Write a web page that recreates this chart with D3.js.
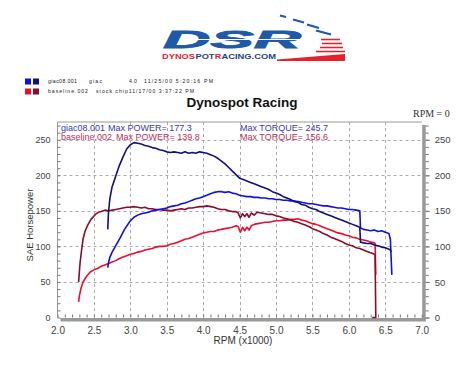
<!DOCTYPE html>
<html><head><meta charset="utf-8">
<script src="https://cdn.jsdelivr.net/npm/d3@7/dist/d3.min.js"></script>
<style>body{margin:0;background:#fff}svg{display:block}</style>
</head><body><svg id="c" width="468" height="371"></svg>
<script>
// ---------- DATA ----------
const xTicks = [2.0,2.5,3.0,3.5,4.0,4.5,5.0,5.5,6.0,6.5,7.0];
const yTicks = [0,50,100,150,200,250];
const legendRows = [
  ["giac08.001","giac","4.0","11/25/00 5:20:16 PM"],
  ["baseline.002","stock chip11/17/00 3:37:22 PM"]
];
const runNames = ["giac08.001","baseline.002"];
const maxPower = [177.3, 139.8];
const maxTorque = [245.7, 156.6];
// giac torque (navy)
const giacTorque = [[2.69,124],[2.70,148],[2.72,168],[2.75,184],[2.80,199],[2.85,214],[2.90,226],[2.95,237],[3.00,243],[3.05,246],[3.10,245],[3.15,244],[3.20,242],[3.25,241],[3.30,239],[3.35,238],[3.40,236],[3.45,235],[3.50,233],[3.55,232],[3.60,233],[3.65,232],[3.70,231],[3.75,233],[3.80,231],[3.85,232],[3.90,231],[3.95,233],[4.00,232],[4.05,231],[4.10,229],[4.15,227],[4.20,224],[4.25,220],[4.30,216],[4.35,211],[4.40,206],[4.45,201],[4.50,196],[4.55,194],[4.60,192],[4.65,190],[4.70,188],[4.75,186],[4.80,184],[4.85,182],[4.90,180],[4.95,177],[5.00,175],[5.05,173],[5.10,170],[5.15,168],[5.20,166],[5.25,163],[5.30,162],[5.35,159],[5.40,158],[5.45,155],[5.50,153],[5.55,152],[5.60,149],[5.65,147],[5.70,145],[5.75,143],[5.80,141],[5.85,139],[5.90,137],[5.95,135],[6.00,133],[6.05,131],[6.10,129],[6.15,127],[6.16,106],[6.20,105],[6.25,104],[6.30,104],[6.35,102],[6.40,101],[6.45,99],[6.50,98],[6.55,96],[6.57,95],[6.58,92]];
// giac power (blue)
const giacPower = [[2.69,70],[2.70,77],[2.72,85],[2.75,92],[2.80,101],[2.86,112],[2.92,124],[3.00,136],[3.05,141],[3.10,144],[3.15,146],[3.20,147],[3.25,148],[3.30,150],[3.35,151],[3.40,152],[3.45,153],[3.50,154],[3.55,156],[3.60,157],[3.65,158],[3.70,160],[3.75,161],[3.80,163],[3.85,165],[3.90,167],[3.95,168],[4.00,170],[4.05,172],[4.10,174],[4.15,176],[4.20,177],[4.25,177],[4.30,176],[4.35,177],[4.40,175],[4.45,174],[4.50,172],[4.55,171],[4.60,170],[4.65,170],[4.70,169],[4.75,169],[4.80,168],[4.85,168],[4.90,167],[4.95,167],[5.00,166],[5.05,166],[5.10,165],[5.15,165],[5.20,164],[5.25,164],[5.30,163],[5.35,162],[5.40,161],[5.45,160],[5.50,160],[5.55,159],[5.60,158],[5.65,157],[5.70,157],[5.75,156],[5.80,155],[5.85,154],[5.90,154],[5.95,153],[6.00,152],[6.05,152],[6.10,151],[6.15,150],[6.16,126],[6.20,124],[6.25,123],[6.30,122],[6.35,123],[6.40,121],[6.45,122],[6.50,120],[6.55,118],[6.57,110],[6.58,85],[6.59,60]];
// baseline torque (dark red)
const baseTorque = [[2.29,50],[2.30,64],[2.31,77],[2.33,94],[2.35,110],[2.38,122],[2.42,131],[2.46,138],[2.52,145],[2.56,148],[2.60,149],[2.65,151],[2.70,150],[2.75,151],[2.80,152],[2.85,153],[2.90,154],[2.95,155],[3.00,155],[3.04,156],[3.10,155],[3.15,154],[3.20,155],[3.25,153],[3.30,153],[3.35,152],[3.40,152],[3.45,151],[3.50,151],[3.55,150],[3.60,151],[3.65,152],[3.70,153],[3.75,152],[3.80,154],[3.85,154],[3.90,155],[3.95,156],[4.00,156],[4.05,157],[4.10,156],[4.15,155],[4.20,153],[4.25,152],[4.30,152],[4.35,150],[4.40,149],[4.45,149],[4.48,147],[4.51,140],[4.54,146],[4.57,142],[4.60,146],[4.63,141],[4.66,147],[4.70,144],[4.74,148],[4.80,147],[4.85,146],[4.90,145],[4.95,145],[5.00,143],[5.05,142],[5.10,140],[5.15,139],[5.20,137],[5.25,135],[5.30,134],[5.35,132],[5.40,130],[5.45,128],[5.50,125],[5.55,123],[5.60,121],[5.65,118],[5.70,116],[5.75,113],[5.80,111],[5.85,109],[5.90,107],[5.95,104],[6.00,102],[6.05,101],[6.10,98],[6.15,97],[6.20,95],[6.25,93],[6.30,91],[6.35,89],[6.36,88],[6.37,0],[6.32,0]];
// baseline power (red)
const basePower = [[2.29,22],[2.30,30],[2.32,40],[2.35,50],[2.40,58],[2.45,64],[2.50,67],[2.55,69],[2.60,72],[2.65,74],[2.70,76],[2.75,78],[2.80,80],[2.85,83],[2.90,85],[2.95,87],[3.00,89],[3.05,90],[3.10,92],[3.15,93],[3.20,95],[3.25,96],[3.30,97],[3.35,99],[3.40,100],[3.45,100],[3.50,101],[3.55,103],[3.60,104],[3.65,106],[3.70,108],[3.75,110],[3.80,111],[3.85,113],[3.90,115],[3.95,117],[4.00,119],[4.05,120],[4.10,121],[4.15,121],[4.20,123],[4.25,124],[4.30,125],[4.35,126],[4.40,127],[4.45,129],[4.48,128],[4.51,120],[4.54,127],[4.57,122],[4.60,127],[4.63,123],[4.66,129],[4.70,131],[4.75,132],[4.80,133],[4.85,134],[4.90,134],[4.95,135],[5.00,136],[5.05,136],[5.10,137],[5.15,137],[5.20,138],[5.25,138],[5.30,139],[5.35,137],[5.40,136],[5.45,134],[5.50,132],[5.55,131],[5.60,129],[5.65,127],[5.70,125],[5.75,123],[5.80,121],[5.85,119],[5.90,118],[5.95,116],[6.00,115],[6.05,113],[6.10,112],[6.15,110],[6.20,109],[6.25,108],[6.30,106],[6.35,105],[6.36,104],[6.37,60]];

const colBlue = "#1010e0", colNavy = "#10107e", colRed = "#e8102e", colDRed = "#8c0a2c";

// ---------- DRAW ----------
const svg = d3.select("#c");
const FONT = "Arial, 'Liberation Sans', sans-serif";
const x = d3.scaleLinear().domain([2,7]).range([57.5,421.7]);
const y = d3.scaleLinear().domain([0,275]).range([317.5,122]);

// Logo
const logo = svg.append("g");
[[280,15.5,286,17],[293,19.5,304,22.5],[307,24.5,319,28],[316,30.5,331,34.5]].forEach(d=>{
  logo.append("line").attr("x1",d[0]).attr("y1",d[1]).attr("x2",d[2]).attr("y2",d[3])
    .attr("stroke","#1e5aa8").attr("stroke-width",2.2);
});
[[321,39.5,340,39.5],[322,43.5,342,43.5],[320,47.5,343,47.5],[316,51.5,345,51.5]].forEach(d=>{
  logo.append("line").attr("x1",d[0]).attr("y1",d[1]).attr("x2",d[2]).attr("y2",d[3])
    .attr("stroke","#e2232e").attr("stroke-width",1.6);
});
logo.append("path").attr("d","M277,59.5 L345,54 L345,61 L277,61 Z").attr("fill","#e2232e");
logo.append("text").attr("x",163).attr("y",48).attr("font-family",FONT)
  .attr("font-size",24).attr("font-weight",900).attr("font-style","italic")
  .attr("fill","#1e5aa8").attr("stroke","#1e5aa8").attr("stroke-width",0.8)
  .attr("textLength",138).attr("lengthAdjust","spacingAndGlyphs").text("DSR");
logo.append("line").attr("x1",185).attr("y1",39.5).attr("x2",300).attr("y2",39.5).attr("stroke","#fff").attr("stroke-width",1);
[["DYNOS","#e2232e",162,33],["POT","#1d3f8a",195.5,19],["R","#e2232e",214.8,6.5],["ACING.COM","#1d3f8a",221.5,54.5]].forEach(p=>{
  logo.append("text").attr("x",p[2]).attr("y",59).attr("font-family",FONT)
    .attr("font-size",7.2).attr("font-weight",700).attr("fill",p[1])
    .attr("textLength",p[3]).attr("lengthAdjust","spacingAndGlyphs").text(p[0]);
});

// Legend
const legend = svg.append("g").attr("font-family",FONT).attr("font-size",5.2).attr("fill","#222");
[[colBlue,colNavy,78.5],[colRed,colDRed,88.5]].forEach(r=>{
  legend.append("rect").attr("x",25).attr("y",r[2]).attr("width",6).attr("height",6).attr("fill",r[0]);
  legend.append("rect").attr("x",33).attr("y",r[2]).attr("width",6).attr("height",6).attr("fill",r[1]);
});
const row1X = [[48,29],[89,13],[129,8],[144,69]];
legendRows[0].forEach((t,i)=>legend.append("text").attr("x",row1X[i][0]).attr("y",83.2)
  .attr("textLength",row1X[i][1]).attr("lengthAdjust","spacing").text(t));
const row2X = [[48,40],[96,98]];
legendRows[1].forEach((t,i)=>legend.append("text").attr("x",row2X[i][0]).attr("y",92.8)
  .attr("textLength",row2X[i][1]).attr("lengthAdjust","spacing").text(t));

// Title
svg.append("text").attr("x",242).attr("y",107).attr("text-anchor","middle")
  .attr("font-family",FONT).attr("font-size",13.5).attr("font-weight",700).attr("fill","#111")
  .text("Dynospot Racing");
svg.append("text").attr("x",413).attr("y",117).attr("font-family","'Liberation Serif', 'DejaVu Serif', serif")
  .attr("font-size",10).attr("fill","#333").text("RPM = 0");

// Plot frame shadow
svg.append("rect").attr("x",x(7)+0.5).attr("y",y(275)+3).attr("width",3.5).attr("height",y(0)-y(275)+0.5).attr("fill","#999");
svg.append("rect").attr("x",x(2)+3).attr("y",y(0)+0.5).attr("width",x(7)-x(2)+1).attr("height",3.5).attr("fill","#999");

// grid
const grid = svg.append("g").attr("stroke","#aaa").attr("stroke-width",1).attr("stroke-dasharray","3,3");
xTicks.filter(v=>v>2&&v<7).forEach(v=>grid.append("line").attr("x1",Math.round(x(v))+0.5).attr("x2",Math.round(x(v))+0.5).attr("y1",y(275)).attr("y2",y(0))); 
yTicks.filter(v=>v>0).forEach(v=>grid.append("line").attr("y1",Math.round(y(v))+0.5).attr("y2",Math.round(y(v))+0.5).attr("x1",x(2)).attr("x2",x(7)));

// frame thin lines
svg.append("path").attr("d",`M${x(2)},${y(0)} L${x(2)},${y(275)} L${x(7)},${y(275)}`).attr("fill","none").attr("stroke","#999").attr("stroke-width",1);

// axes
const yMinor = d3.range(0,271,10);
const axL = svg.append("g").attr("transform",`translate(${x(2)},0)`)
  .call(d3.axisRight(y).tickValues(yMinor).tickSize(3).tickFormat(""));
axL.select(".domain").remove();
axL.selectAll("line").attr("stroke","#777");
const axLL = svg.append("g").attr("transform",`translate(${x(2)},0)`)
  .call(d3.axisLeft(y).tickValues(yTicks).tickSize(0).tickPadding(7).tickFormat(d3.format("d")));
axLL.select(".domain").remove();
axLL.selectAll("text").attr("font-family",FONT).attr("font-size",9).attr("fill","#444");

const axR = svg.append("g").attr("transform",`translate(${x(7)+4},0)`)
  .call(d3.axisRight(y).tickValues(yMinor).tickSize(3).tickFormat(""));
axR.select(".domain").remove();
axR.selectAll("line").attr("stroke","#777");
const axRL = svg.append("g").attr("transform",`translate(${x(7)+4},0)`)
  .call(d3.axisRight(y).tickValues(yTicks).tickSize(4).tickPadding(5).tickFormat(d3.format("d")));
axRL.select(".domain").remove();
axRL.selectAll("line").attr("stroke","#777");
axRL.selectAll("text").attr("font-family",FONT).attr("font-size",9.5).attr("fill","#444");

const xMinor = d3.range(20,71).map(v=>v/10);
const axB = svg.append("g").attr("transform",`translate(0,${y(0)})`)
  .call(d3.axisTop(x).tickValues(xMinor).tickSize(3).tickFormat(""));
axB.select(".domain").remove();
axB.selectAll("line").attr("stroke","#777");
const axBL = svg.append("g").attr("transform",`translate(0,${y(0)+4})`)
  .call(d3.axisBottom(x).tickValues(xTicks).tickSize(0).tickPadding(5).tickFormat(d3.format(".1f")));
axBL.select(".domain").remove();
axBL.selectAll("text").attr("font-family",FONT).attr("font-size",10).attr("fill","#444");

svg.append("text").attr("x",243).attr("y",344).attr("text-anchor","middle").attr("font-family",FONT)
  .attr("font-size",10).attr("fill","#333").text("RPM (x1000)");
svg.append("text").attr("transform","translate(33,225) rotate(-90)").attr("text-anchor","middle")
  .attr("font-family",FONT).attr("font-size",9.5).attr("fill","#333").text("SAE Horsepower");

// lines
const line = d3.line().x(d=>x(d[0])).y(d=>y(d[1]));
[[basePower,colRed],[baseTorque,colDRed],[giacPower,colBlue],[giacTorque,colNavy]].forEach(s=>{
  svg.append("path").datum(s[0]).attr("d",line).attr("fill","none").attr("stroke",s[1])
    .attr("stroke-width",1.6).attr("stroke-linejoin","round");
});

// annotations
const ann = svg.append("g").attr("font-family",FONT).attr("font-size",9);
const annCols = ["#3a3aae","#c0305a"];
[0,1].forEach(i=>{
  const yy = 130.5 + i*9.5;
  ann.append("text").attr("x",61).attr("y",yy).attr("fill",annCols[i]).text(runNames[i]);
  ann.append("text").attr("x",i===0?108:116).attr("y",yy).attr("fill",annCols[i]).text("Max POWER= "+maxPower[i].toFixed(1));
  ann.append("text").attr("x",240).attr("y",yy).attr("fill",annCols[i]).text("Max TORQUE= "+maxTorque[i].toFixed(1));
});
</script></body></html>
